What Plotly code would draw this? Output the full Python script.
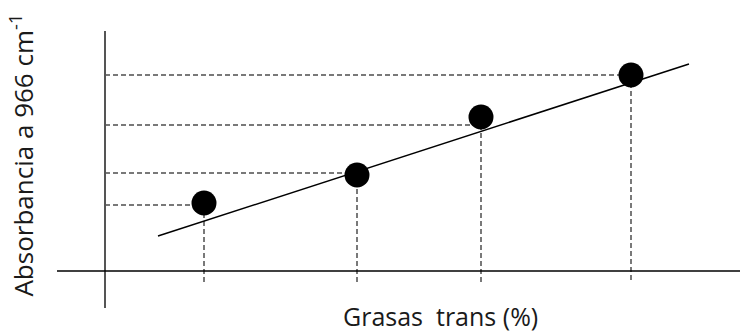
import plotly.graph_objects as go

# Calibration points: trans fat content (%) vs absorbance at 966 cm-1
grasas_trans = [0.99, 2.52, 3.76, 5.26]
absorbancia = [0.34, 0.48, 0.77, 0.98]

# Reading levels of the dashed guides (absorbance)
guia_abs = [0.33, 0.49, 0.73, 0.98]

# Fitted calibration line
pendiente = 0.162
intercepto = 0.089
recta_x = [0.53, 5.84]

# Extent of the drawn axes
eje_x = [-0.48, 6.35]
eje_y = [-0.185, 1.2]
guia_fondo = -0.055

fig = go.Figure()

# Dashed guides from each point to both axes
for x, g in zip(grasas_trans, guia_abs):
    fig.add_trace(go.Scatter(x=[0, x], y=[g, g], mode="lines",
                             line=dict(color="#4d4d4d", width=1.5, dash="5px,3px"),
                             hoverinfo="skip", showlegend=False))
    fig.add_trace(go.Scatter(x=[x, x], y=[g, guia_fondo], mode="lines",
                             line=dict(color="#4d4d4d", width=1.5, dash="5px,3px"),
                             hoverinfo="skip", showlegend=False))

# Axes
fig.add_trace(go.Scatter(x=[0, 0], y=eje_y, mode="lines",
                         line=dict(color="#555555", width=2),
                         hoverinfo="skip", showlegend=False))
fig.add_trace(go.Scatter(x=eje_x, y=[0, 0], mode="lines",
                         line=dict(color="#000000", width=1.5),
                         hoverinfo="skip", showlegend=False))

# Calibration line
fig.add_trace(go.Scatter(x=recta_x, y=[intercepto + pendiente * v for v in recta_x],
                         mode="lines", line=dict(color="#000000", width=1.5),
                         hoverinfo="skip", showlegend=False))

# Points
fig.add_trace(go.Scatter(x=grasas_trans, y=absorbancia, mode="markers",
                         marker=dict(color="#000000", size=25, line=dict(width=0)),
                         showlegend=False))

fig.update_layout(
    width=750, height=333,
    margin=dict(l=0, r=0, t=0, b=0),
    paper_bgcolor="white", plot_bgcolor="white",
    xaxis=dict(range=[-1.05, 6.45], visible=False, fixedrange=True),
    yaxis=dict(range=[-0.31, 1.355], visible=False, fixedrange=True),
    font=dict(family="Open Sans, Lato, sans-serif", color="#1a1a1a"),
    annotations=[
        dict(text="Grasas  trans (%)", x=0.587, y=0.052, xref="paper", yref="paper",
             xanchor="center", yanchor="middle", showarrow=False,
             font=dict(size=25)),
        dict(text="Absorbancia a 966 cm<sup>-1</sup>", x=0.029, y=0.535,
             xref="paper", yref="paper", xanchor="center", yanchor="middle",
             textangle=-90, showarrow=False, font=dict(size=26)),
    ],
)

fig.write_html("out.html")
